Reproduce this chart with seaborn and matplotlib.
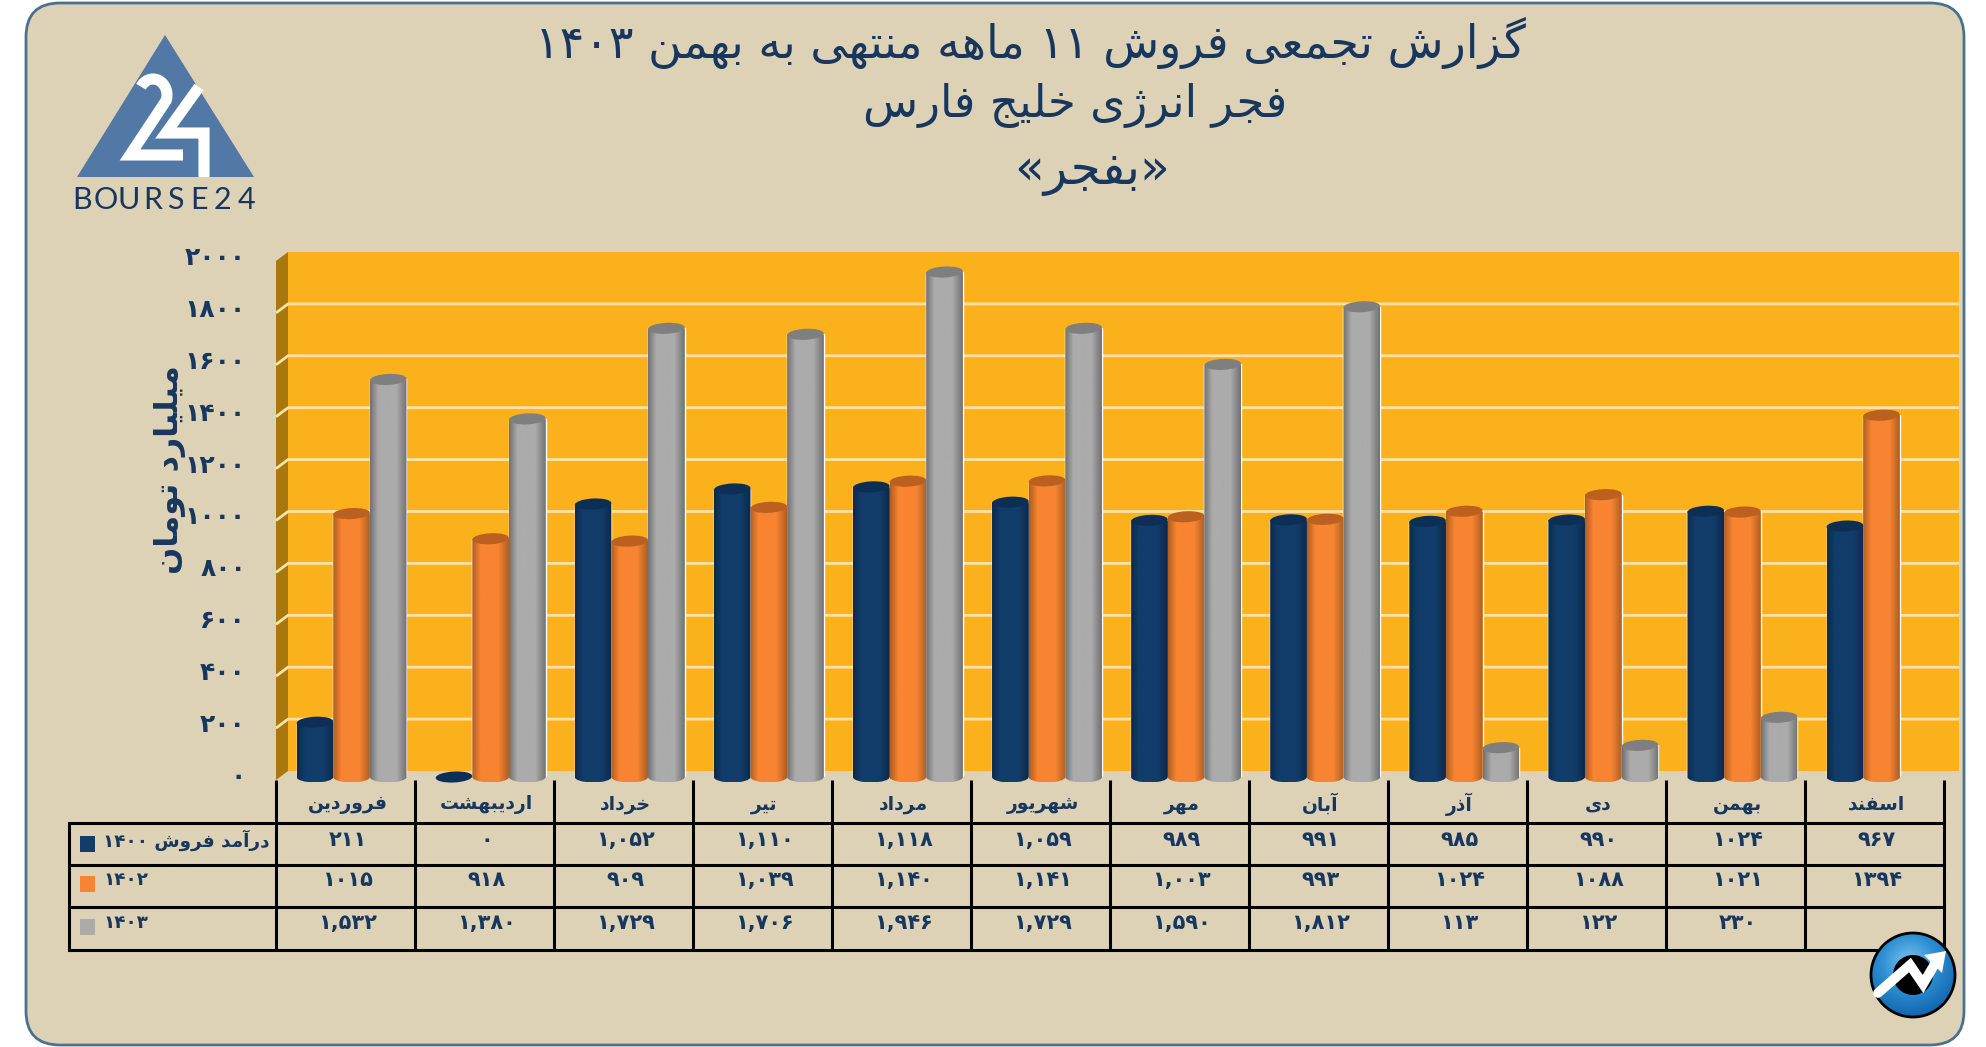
import numpy as np
import pandas as pd
import seaborn as sns
import matplotlib.pyplot as plt
from matplotlib.colors import LinearSegmentedColormap
from matplotlib.patches import Circle, Ellipse, FancyBboxPatch, PathPatch, Polygon, Rectangle
from matplotlib.path import Path

W, H = 1986, 1047

months = ["فروردین", "اردیبهشت", "خرداد", "تیر", "مرداد", "شهریور", "مهر", "آبان", "آذر", "دی", "بهمن", "اسفند"]
series_names = ["۱۴۰۰", "۱۴۰۲", "۱۴۰۳"]
row_labels = ["درآمد فروش ۱۴۰۰", "۱۴۰۲", "۱۴۰۳"]
sales_1400 = [211, 0, 1052, 1110, 1118, 1059, 989, 991, 985, 990, 1024, 967]
sales_1402 = [1015, 918, 909, 1039, 1140, 1141, 1003, 993, 1024, 1088, 1021, 1394]
sales_1403 = [1532, 1380, 1729, 1706, 1946, 1729, 1590, 1812, 113, 122, 230, np.nan]
labels_1400 = ["۲۱۱", "۰", "۱,۰۵۲", "۱,۱۱۰", "۱,۱۱۸", "۱,۰۵۹", "۹۸۹", "۹۹۱", "۹۸۵", "۹۹۰", "۱۰۲۴", "۹۶۷"]
labels_1402 = ["۱۰۱۵", "۹۱۸", "۹۰۹", "۱,۰۳۹", "۱,۱۴۰", "۱,۱۴۱", "۱,۰۰۳", "۹۹۳", "۱۰۲۴", "۱۰۸۸", "۱۰۲۱", "۱۳۹۴"]
labels_1403 = ["۱,۵۳۲", "۱,۳۸۰", "۱,۷۲۹", "۱,۷۰۶", "۱,۹۴۶", "۱,۷۲۹", "۱,۵۹۰", "۱,۸۱۲", "۱۱۳", "۱۲۲", "۲۳۰", ""]
y_ticks = [0, 200, 400, 600, 800, 1000, 1200, 1400, 1600, 1800, 2000]

NAVY = "#17375E"
BAR_COLORS = ["#123D6B", "#F88432", "#ABABAB"]
BAR_EDGES = ["#0C2A4C", "#AE5F22", "#727272"]
BAR_TOPS = ["#0E2F55", "#BC601F", "#7F7F7F"]

# matplotlib does no arabic shaping, so join the letters by hand
FORMS = {
    "ا": (0xFE8D, 0xFE8E), "آ": (0xFE81, 0xFE82), "د": (0xFEA9, 0xFEAA), "ذ": (0xFEAB, 0xFEAC),
    "ر": (0xFEAD, 0xFEAE), "ز": (0xFEAF, 0xFEB0), "ژ": (0xFB8A, 0xFB8B), "و": (0xFEED, 0xFEEE),
    "ب": (0xFE8F, 0xFE90, 0xFE91, 0xFE92), "پ": (0xFB56, 0xFB57, 0xFB58, 0xFB59),
    "ت": (0xFE95, 0xFE96, 0xFE97, 0xFE98), "ج": (0xFE9D, 0xFE9E, 0xFE9F, 0xFEA0),
    "چ": (0xFB7A, 0xFB7B, 0xFB7C, 0xFB7D), "خ": (0xFEA5, 0xFEA6, 0xFEA7, 0xFEA8),
    "س": (0xFEB1, 0xFEB2, 0xFEB3, 0xFEB4), "ش": (0xFEB5, 0xFEB6, 0xFEB7, 0xFEB8),
    "ع": (0xFEC9, 0xFECA, 0xFECB, 0xFECC), "ف": (0xFED1, 0xFED2, 0xFED3, 0xFED4),
    "ک": (0xFB8E, 0xFB8F, 0xFB90, 0xFB91), "گ": (0xFB92, 0xFB93, 0xFB94, 0xFB95),
    "ل": (0xFEDD, 0xFEDE, 0xFEDF, 0xFEE0), "م": (0xFEE1, 0xFEE2, 0xFEE3, 0xFEE4),
    "ن": (0xFEE5, 0xFEE6, 0xFEE7, 0xFEE8), "ه": (0xFEE9, 0xFEEA, 0xFEEB, 0xFEEC),
    "ی": (0xFBFC, 0xFBFD, 0xFBFE, 0xFBFF),
}
DIGITS = "۰۱۲۳۴۵۶۷۸۹,"
MIRROR = {"«": "»", "»": "«"}


def fa(text):
    out = []
    for i, ch in enumerate(text):
        if ch not in FORMS:
            out.append(MIRROR.get(ch, ch))
            continue
        prev_ch = text[i - 1] if i > 0 else ""
        next_ch = text[i + 1] if i + 1 < len(text) else ""
        joins_prev = prev_ch in FORMS and len(FORMS[prev_ch]) == 4
        joins_next = next_ch in FORMS and len(FORMS[ch]) == 4
        if joins_prev and joins_next:
            out.append(chr(FORMS[ch][3]))
        elif joins_prev:
            out.append(chr(FORMS[ch][1]))
        elif joins_next:
            out.append(chr(FORMS[ch][2]))
        else:
            out.append(chr(FORMS[ch][0]))
    # visual order: reverse everything, then put the number runs back
    out = out[::-1]
    result, run = [], []
    for ch in out:
        if ch in DIGITS:
            run.append(ch)
        else:
            result.extend(run[::-1])
            run = []
            result.append(ch)
    result.extend(run[::-1])
    return "".join(result)


sns.set_theme(style="white")
plt.rcParams["font.family"] = ["DejaVu Sans"]

rows = []
for name, values in zip(series_names, [sales_1400, sales_1402, sales_1403]):
    for month, value in zip(months, values):
        rows.append({"month": month, "year": name, "value": value})
df = pd.DataFrame(rows)

fig = plt.figure(figsize=(W / 100, H / 100), dpi=100, facecolor="white")


def pixel_axes(zorder):
    a = fig.add_axes([0, 0, 1, 1], zorder=zorder)
    a.set_xlim(0, W)
    a.set_ylim(H, 0)
    a.axis("off")
    a.patch.set_alpha(0)
    return a


bg = pixel_axes(0)
ov = pixel_axes(2)

# card
bg.add_patch(FancyBboxPatch((26 + 34, 3 + 34), 1938 - 68, 1042 - 68, boxstyle="round,pad=34,rounding_size=34",
                            mutation_aspect=1, fc="#DED2B6", ec="#4A7290", lw=2))

# bars go in their own axes so the value scale is the real one
ax = fig.add_axes([282 / W, (H - 777) / H, (1951 - 282) / W, (777 - 258) / H], zorder=1)
ax.patch.set_alpha(0)
sns.barplot(data=df, x="month", y="value", hue="year", order=months, hue_order=series_names,
            palette=BAR_COLORS, width=0.79, gap=0, saturation=1, legend=False, errorbar=None, ax=ax)
ax.set_xlim(-0.5, 11.5)
ax.set_ylim(0, 2000)
ax.set_xlabel("")
ax.set_ylabel("")
ax.set_yticks(y_ticks)
ax.set_yticklabels([fa("".join(DIGITS[int(d)] for d in str(v))) for v in y_ticks],
                   fontsize=18, fontweight="bold", color=NAVY, va="center")
ax.tick_params(axis="y", length=0, pad=26)
ax.tick_params(axis="x", bottom=False, labelbottom=False)
sns.despine(ax=ax, left=True, bottom=True)

# wall behind the bars, gridlines follow the same ticks
WALL_L, WALL_R, WALL_T, WALL_B = 288, 1959, 252, 771
bg.add_patch(Rectangle((WALL_L, WALL_T), WALL_R - WALL_L, WALL_B - WALL_T, fc="#FAB11B", ec="none"))
bg.add_patch(Polygon([(276, WALL_T + 9), (WALL_L, WALL_T), (WALL_L, WALL_B), (276, WALL_B + 9)], fc="#A8770E", ec="none"))
for v in y_ticks[1:-1]:
    gy = WALL_B - v * (WALL_B - WALL_T) / 2000
    bg.plot([276, WALL_L, WALL_R], [gy + 9, gy, gy], color="#FBE3A8", lw=2, solid_capstyle="butt")

# turn every seaborn bar into a cylinder
RX_RATIO, RY = 0.5, 5.5
for s, container in enumerate(ax.containers):
    cmap = LinearSegmentedColormap.from_list("c", [(0, BAR_EDGES[s]), (0.22, BAR_COLORS[s]), (0.72, BAR_COLORS[s]),
                                                   (1, BAR_EDGES[s])])
    grad = np.linspace(0, 1, 64).reshape(1, -1)
    for bar in container:
        height = bar.get_height()
        if not np.isfinite(height):
            continue
        bx = bar.get_x()
        (x0, y_top), (x1, y_base) = ax.transData.transform([(bx, height), (bx + bar.get_width(), 0)])
        y_top, y_base = H - y_top, H - y_base
        rx = (x1 - x0) * RX_RATIO
        if height > 0:
            k = 0.5523
            xc = (x0 + x1) / 2
            body = Path([(x0, y_top), (x1, y_top), (x1, y_base), (x1, y_base + k * RY), (xc + k * rx, y_base + RY),
                         (xc, y_base + RY), (xc - k * rx, y_base + RY), (x0, y_base + k * RY), (x0, y_base), (x0, y_top)],
                        [Path.MOVETO, Path.LINETO, Path.LINETO, Path.CURVE4, Path.CURVE4, Path.CURVE4,
                         Path.CURVE4, Path.CURVE4, Path.CURVE4, Path.CLOSEPOLY])
            clip = PathPatch(body, fc="none", ec="none", transform=ov.transData)
            ov.add_patch(clip)
            im = ov.imshow(grad, extent=(x0, x1, y_base + RY, y_top), aspect="auto", cmap=cmap, zorder=3 + s)
            im.set_clip_path(clip)
        ov.add_patch(Ellipse(((x0 + x1) / 2, y_top), 2 * rx, 2 * RY, angle=-3, fc=BAR_TOPS[s], ec="none", zorder=3 + s))
ov.set_xlim(0, W)
ov.set_ylim(H, 0)

# titles
ov.text(1030, 43, fa("گزارش تجمعی فروش ۱۱ ماهه منتهی به بهمن ۱۴۰۳"), fontsize=33, color=NAVY, ha="center", va="center")
ov.text(1075, 106, fa("فجر انرژی خلیج فارس"), fontsize=32.5, color=NAVY, ha="center", va="center")
ov.text(1092, 172, fa("«بفجر»"), fontsize=35, color=NAVY, ha="center", va="center")
ov.text(170, 470, fa("میلیارد تومان"), fontsize=23, fontweight="bold", color=NAVY, rotation=90, ha="center", va="center")

# table under the chart
COL0, COL_W = 276, 139
ROW_Y = [823, 865, 907, 950]
for i in range(13):
    bg.plot([COL0 + i * COL_W] * 2, [780, ROW_Y[-1]], color="black", lw=2.2, solid_capstyle="butt")
for y in ROW_Y:
    bg.plot([69, COL0 + 12 * COL_W], [y, y], color="black", lw=2.2, solid_capstyle="projecting")
bg.plot([69, 69], [ROW_Y[0], ROW_Y[-1]], color="black", lw=2.2)

month_kw = dict(fontsize=13.5, fontweight="bold", color=NAVY, ha="center", va="center")
value_kw = dict(fontsize=15, fontweight="bold", color=NAVY, ha="center", va="center")
for i, month in enumerate(months):
    ov.text(COL0 + (i + 0.5) * COL_W + 2, 804, fa(month), **month_kw)
for y, labels in zip([840, 880, 923], [labels_1400, labels_1402, labels_1403]):
    for i, label in enumerate(labels):
        if label:
            ov.text(COL0 + (i + 0.5) * COL_W + 2, y, fa(label), **value_kw)
for y, label, color in zip([840, 880, 923], row_labels, BAR_COLORS):
    ov.text(103, y, fa(label), fontsize=13.2, fontweight="bold", color=NAVY, ha="left", va="center")
    bg.add_patch(Rectangle((80, y - 4), 15, 16, fc=color, ec="none"))

# bourse24 logo
bg.add_patch(Polygon([(165, 35), (77, 177), (254, 177)], fc="#5279A6", ec="none"))
t = np.linspace(-2.6, 0.35, 30)
two_x = list(153 + 14 * np.cos(t)) + [130, 183]
two_y = list(95 + 16 * np.sin(t)) + [155, 155]
bg.plot(two_x, two_y, color="white", lw=8, solid_joinstyle="miter", solid_capstyle="butt")
bg.plot([199, 166, 204, 204], [87, 133, 133, 177], color="white", lw=8, solid_joinstyle="miter", solid_capstyle="butt")
for ch, lx in zip("BOURSE24", np.linspace(82, 246, 8)):
    bg.text(lx, 200, ch, fontsize=22, family="Lato", color=NAVY, ha="center", va="center")

# round badge in the corner
CX, CY, CR = 1913, 975, 42
yy, xx = np.mgrid[-1:1:120j, -1:1:120j]
disc = ov.imshow(np.hypot(xx + 0.1, yy + 0.3), extent=(CX - CR, CX + CR, CY + CR, CY - CR), aspect="auto",
                 cmap=LinearSegmentedColormap.from_list("b", ["#7CC4EE", "#2E8FD3", "#1266B0"]), vmin=0, vmax=1.3, zorder=10)
ring = Circle((CX, CY), CR, fc="none", ec="black", lw=2, zorder=11, transform=ov.transData)
ov.add_patch(ring)
disc.set_clip_path(ring)
ov.add_patch(Circle((CX, CY), 20, fc="black", ec="none", zorder=12))
ov.plot([1878, 1910, 1923, 1936], [993, 965, 984, 962], color="white", lw=7, solid_joinstyle="miter", zorder=13)
ov.add_patch(Polygon([(1946, 951), (1924, 955), (1942, 973)], fc="white", ec="none", zorder=13))
ov.set_xlim(0, W)
ov.set_ylim(H, 0)

fig.savefig("out.png", dpi=100, facecolor="white")
